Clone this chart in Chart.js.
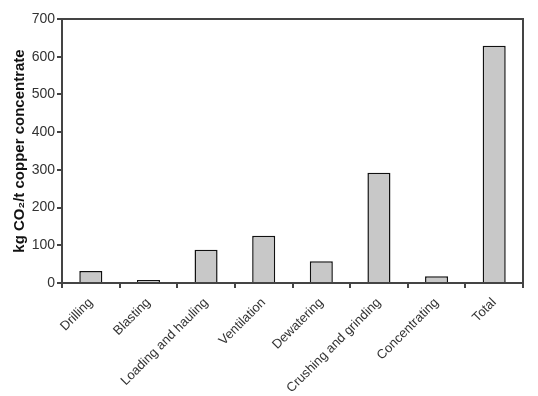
<!DOCTYPE html>
<html>
<head>
<meta charset="utf-8">
<script src="https://cdn.jsdelivr.net/npm/chart.js@4.4.0/dist/chart.umd.js"></script>
<style>
  html, body { margin: 0; padding: 0; background: #fff; }
  #wrap { width: 538px; height: 396px; }
</style>
</head>
<body>
<div id="wrap"><canvas id="chart" width="538" height="396"></canvas></div>
<script>
// data
const categories = ['Drilling', 'Blasting', 'Loading and hauling', 'Ventilation', 'Dewatering',
  'Crushing and grinding', 'Concentrating', 'Total'];
const emissions = [32, 8, 88, 125, 58, 292, 18, 629];
const yTicks = [0, 100, 200, 300, 400, 500, 600, 700];

const axisColor = '#444';
const labelFont = 'Arial, "Liberation Sans"';

// draws the top and right sides of the plot frame
const frame = {
  id: 'frame',
  afterDraw(chart) {
    const { ctx, chartArea: a } = chart;
    ctx.save();
    ctx.strokeStyle = axisColor;
    ctx.lineWidth = 2;
    ctx.beginPath();
    ctx.moveTo(a.left, a.top);
    ctx.lineTo(a.right, a.top);
    ctx.lineTo(a.right, a.bottom);
    ctx.stroke();
    ctx.restore();
  }
};

new Chart(document.getElementById('chart'), {
  type: 'bar',
  data: {
    labels: categories,
    datasets: [{
      data: emissions,
      backgroundColor: '#c8c8c8',
      borderColor: '#111',
      borderWidth: 1.5,
      barPercentage: 0.4,
      categoryPercentage: 1
    }]
  },
  options: {
    responsive: false,
    animation: false,
    layout: { padding: { top: 19, right: 15, left: 11, bottom: 0 } },
    plugins: { legend: { display: false }, tooltip: { enabled: false } },
    scales: {
      x: {
        afterFit(scale) { scale.height = 113; },
        border: { color: axisColor, width: 2 },
        grid: { drawOnChartArea: false, drawTicks: true, tickLength: 5, color: axisColor, lineWidth: 2, offset: true },
        ticks: {
          color: '#333',
          font: { family: labelFont, size: 13 },
          minRotation: 45, maxRotation: 45, padding: 7
        }
      },
      y: {
        min: 0, max: 700,
        afterFit(scale) { scale.width = 51; },
        afterBuildTicks(scale) { scale.ticks = yTicks.map(v => ({ value: v })); },
        border: { color: axisColor, width: 2 },
        grid: { drawOnChartArea: false, drawTicks: true, tickLength: 5, color: axisColor, lineWidth: 2 },
        ticks: {
          color: '#333',
          font: { family: labelFont, size: 14 },
          padding: 2
        },
        title: {
          display: true,
          text: 'kg CO\u2082/t copper concentrate',
          color: '#111',
          font: { family: labelFont, size: 15, weight: 'bold' },
          padding: { top: 0, bottom: 4 }
        }
      }
    }
  },
  plugins: [frame]
});
</script>
</body>
</html>
